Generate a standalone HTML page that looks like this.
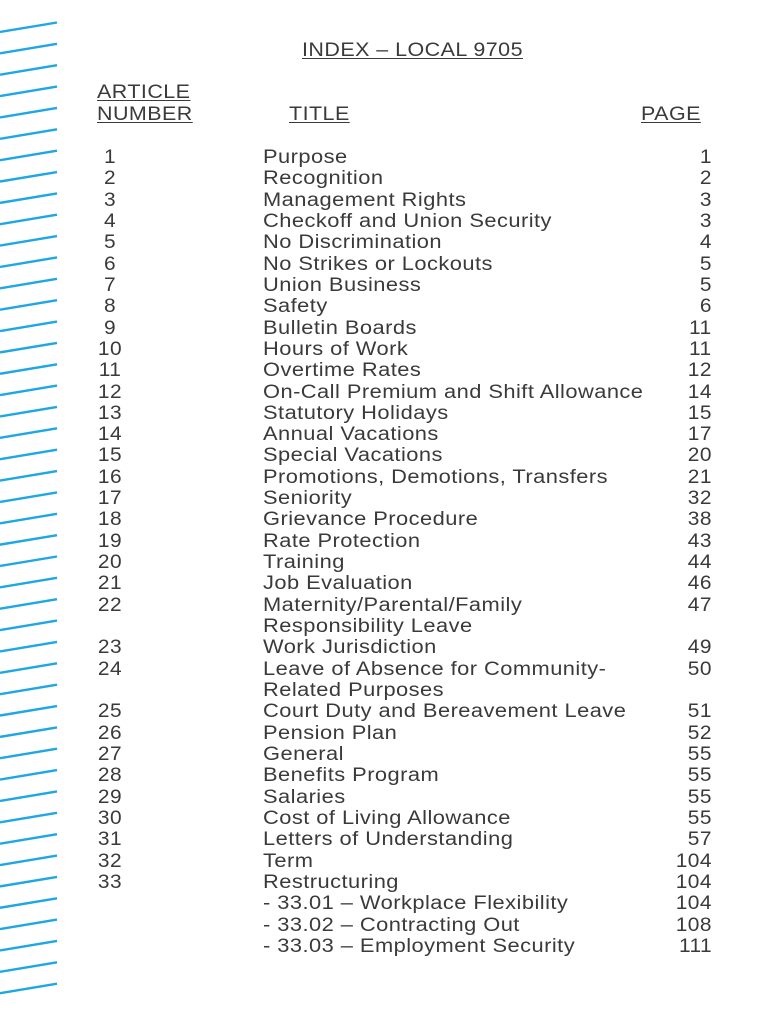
<!DOCTYPE html>
<html><head><meta charset="utf-8"><style>
body{margin:0;width:770px;height:1024px;background:#fff;position:relative;overflow:hidden;font-family:"Liberation Sans",Arial,sans-serif;color:#3a3a3a;}
.t{position:absolute;font-size:19px;line-height:21.32px;white-space:nowrap;letter-spacing:0.4px}
.u{text-decoration:underline;text-underline-offset:2px;text-decoration-thickness:1px;transform:scaleX(1.13);transform-origin:0 0}
.n{position:absolute;left:80px;width:60px;text-align:center;transform:scaleX(1.1)}
.ti{position:absolute;left:263px;transform:scaleX(1.15);transform-origin:0 0}
.p{position:absolute;right:58px;text-align:right;transform:scaleX(1.1);transform-origin:100% 0}
</style></head><body>
<svg width="70" height="1024" style="position:absolute;left:0;top:0">
<g stroke="#1ea7e4" stroke-width="2.4" id="g"></g>
</svg>
<div class="t u" style="left:302px;top:40px">INDEX – LOCAL 9705</div>
<div class="t u" style="left:97px;top:82px">ARTICLE</div>
<div class="t u" style="left:97px;top:104px">NUMBER</div>
<div class="t u" style="left:289px;top:104px">TITLE</div>
<div class="t u" style="left:641px;top:104px">PAGE</div>
<div id="rows"></div>
<script>
var g=document.getElementById('g'),s='';
for(var i=0;i<46;i++){var y=32+i*21.36;s+='<line x1="0" y1="'+y+'" x2="57" y2="'+(y-9.5)+'"/>';}
g.innerHTML=s;
var R=[["1","Purpose","1"],["2","Recognition","2"],["3","Management Rights","3"],["4","Checkoff and Union Security","3"],["5","No Discrimination","4"],["6","No Strikes or Lockouts","5"],["7","Union Business","5"],["8","Safety","6"],["9","Bulletin Boards","11"],["10","Hours of Work","11"],["11","Overtime Rates","12"],["12","On-Call Premium and Shift Allowance","14"],["13","Statutory Holidays","15"],["14","Annual Vacations","17"],["15","Special Vacations","20"],["16","Promotions, Demotions, Transfers","21"],["17","Seniority","32"],["18","Grievance Procedure","38"],["19","Rate Protection","43"],["20","Training","44"],["21","Job Evaluation","46"],["22","Maternity/Parental/Family","47"],["","Responsibility Leave",""],["23","Work Jurisdiction","49"],["24","Leave of Absence for Community-","50"],["","Related Purposes",""],["25","Court Duty and Bereavement Leave","51"],["26","Pension Plan","52"],["27","General","55"],["28","Benefits Program","55"],["29","Salaries","55"],["30","Cost of Living Allowance","55"],["31","Letters of Understanding","57"],["32","Term","104"],["33","Restructuring","104"],["","- 33.01 – Workplace Flexibility","104"],["","- 33.02 – Contracting Out","108"],["","- 33.03 – Employment Security","111"]];
var h='';
R.forEach(function(r,i){var y=147+i*21.32;
h+='<div class="t" style="left:0;right:0;top:'+y+'px"><span class="n">'+r[0]+'</span><span class="ti">'+r[1]+'</span><span class="p">'+r[2]+'</span></div>';});
document.getElementById('rows').innerHTML=h;
</script>
</body></html>
